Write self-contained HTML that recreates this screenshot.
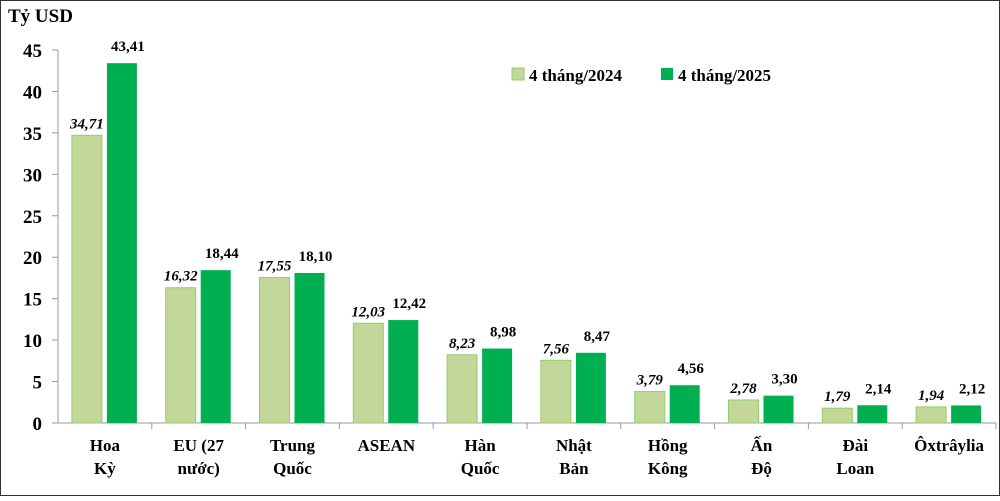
<!DOCTYPE html>
<html><head><meta charset="utf-8"><style>
body{margin:0;background:#fff}
svg text{font-family:"Liberation Serif",serif;font-weight:bold;fill:#000}
</style></head><body>
<svg id="chart" width="1000" height="496" xmlns="http://www.w3.org/2000/svg">
<rect x="0.5" y="0.5" width="999" height="495" fill="#fff" stroke="#333" stroke-width="1"/>
<text x="8" y="22" font-size="19">Tỷ USD</text>
<g id="plot"></g>
<g>
<rect x="512" y="68" width="12" height="12" fill="#c4d79b" stroke="#8fce6a"/>
<text x="529" y="81" font-size="17">4 tháng/2024</text>
<rect x="661" y="68" width="12" height="12" fill="#00b050"/>
<text x="678" y="81" font-size="17">4 tháng/2025</text>
</g>
</svg>
<script>
const categories=[["Hoa","Kỳ"],["EU (27","nước)"],["Trung","Quốc"],["ASEAN"],["Hàn","Quốc"],["Nhật","Bản"],["Hồng","Kông"],["Ấn","Độ"],["Đài","Loan"],["Ôxtrâylia"]];
const values2024=[34.71,16.32,17.55,12.03,8.23,7.56,3.79,2.78,1.79,1.94];
const values2025=[43.41,18.44,18.10,12.42,8.98,8.47,4.56,3.30,2.14,2.12];
const yTicks=[0,5,10,15,20,25,30,35,40,45];
const NS="http://www.w3.org/2000/svg";
const g=document.getElementById('plot');
const x0=58,gw=93.8,y0=423,yTop=50,yMax=45;
const y=v=>y0-(v/yMax)*(y0-yTop);
function mk(t,a,txt){const e=document.createElementNS(NS,t);for(const k in a)e.setAttribute(k,a[k]);if(txt!==undefined)e.textContent=txt;g.appendChild(e);return e;}
const fmt=v=>v.toFixed(2).replace('.',',');
let ax=mk('line',{x1:x0,y1:yTop,x2:x0,y2:y0,stroke:'#999'});


let bx=mk('line',{x1:x0,y1:y0,x2:x0+gw*categories.length,y2:y0,stroke:'#999'});


yTicks.forEach(t=>{
 let l=mk('line',{x1:x0-6,y1:y(t),x2:x0,y2:y(t),stroke:'#999'});
 
 
 let tx=mk('text',{x:x0-16,y:y(t)+7,'font-size':19,'text-anchor':'end'},String(t));
 
 
});
categories.forEach((c,i)=>{
 const gx=x0+gw*i;
 let tk=mk('line',{x1:gx+gw,y1:y0,x2:gx+gw,y2:y0+6,stroke:'#999'});
 
 
 const bw=30,cx=gx+gw/2;
 const v1=values2024[i],v2=values2025[i];
 let r1=mk('rect',{x:cx-bw-3,y:y(v1),width:bw,height:y0-y(v1),fill:'#c4d79b',stroke:'#8fce6a'});
 
 
 let r2=mk('rect',{x:cx+2,y:y(v2),width:bw,height:y0-y(v2),fill:'#00b050'});
 
 
 let t1=mk('text',{x:cx-bw/2-3,y:y(v1)-7,'font-size':15,'font-style':'italic','text-anchor':'middle'},fmt(v1));
 
 
 let t2=mk('text',{x:cx+bw/2+8,y:y(v2)-12,'font-size':15,'text-anchor':'middle'},fmt(v2));
 
 
 c.forEach((line,j)=>{
  let cl=mk('text',{x:cx,y:451+j*23,'font-size':17,'text-anchor':'middle'},line);
  
  
 });
});
</script>
</body></html>
